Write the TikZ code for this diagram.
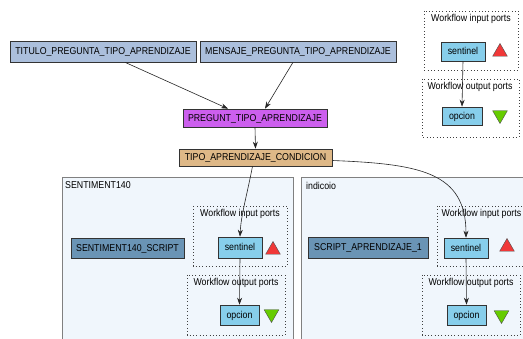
\documentclass[tikz,border=0pt]{standalone}
\usepackage{fontspec}
\setmainfont{Liberation Sans}[FakeStretch=0.88]
\usetikzlibrary{arrows.meta,shapes.geometric}
\definecolor{topfill}{HTML}{ABBFDC}
\definecolor{pregfill}{HTML}{CC5FEE}
\definecolor{tipofill}{HTML}{DEB887}
\definecolor{scriptfill}{HTML}{6A94B5}
\definecolor{portfill}{HTML}{87CEEB}
\definecolor{clusterfill}{HTML}{F0F6FC}
\definecolor{redtri}{HTML}{F03838}
\definecolor{greentri}{HTML}{66CC00}
\tikzset{
  x=1pt, y=-1pt,
  every node/.style={font=\fontsize{10}{11}\selectfont, inner sep=0pt},
  proc/.style={draw=black!80, line width=0.6pt, minimum width=#1, text height=7pt, text depth=0.5pt},
  portbox/.style={draw=black!80, line width=0.6pt, fill=portfill, minimum width=#1, text height=7pt, text depth=0.5pt},
  dotbox/.style={draw=black!75, line width=0.7pt, dash pattern=on 0.7pt off 2.6pt},
  cluster/.style={draw=black!50, line width=0.6pt, fill=clusterfill},
  arr/.style={draw=black!85, line width=0.6pt, -{Stealth[length=7pt,width=5pt]}},
  uptri/.style={draw=black!70, fill=redtri, regular polygon, regular polygon sides=3, minimum size=17pt},
  downtri/.style={draw=black!70, fill=greentri, regular polygon, regular polygon sides=3, shape border rotate=180, minimum size=17pt},
}
\begin{document}
\begin{tikzpicture}
\useasboundingbox (0,0) rectangle (523,339);
\fill[white] (0,0) rectangle (523,339);

% clusters
\begin{scope}
\clip (0,0) rectangle (523,339);
\path[cluster] (62,177) rectangle (293,345);
\path[cluster] (301,177) rectangle (535,345);
\draw[dotbox] (437,206) rectangle (535,266);
\end{scope}
\node[anchor=west] (lsent) at (65,185.5) {SENTIMENT140};
\node[anchor=west] (lindi) at (306,185.5) {indicoio};

% top-right ports
\draw[dotbox] (424,11) rectangle (518,70);
\node (lin0) at (471,18.5) {Workflow input ports};
\draw[dotbox] (422,79) rectangle (519,137);
\node (lout0) at (470,86.5) {Workflow output ports};
\node[portbox=44pt, minimum height=19pt] (sen0) at (463,51.5) {sentinel};
\node[uptri] (rt0) at (500,52) {};
\node[portbox=40pt, minimum height=18pt] (opc0) at (462,116) {opcion};
\node[downtri] (gt0) at (500,115) {};

% SENTIMENT140 internals
\node[proc=113pt, fill=scriptfill, minimum height=20pt] (scr1) at (127.5,248) {SENTIMENT140\_SCRIPT};
\draw[dotbox] (193,206) rectangle (287,266);
\node (lin1) at (240,214) {Workflow input ports};
\draw[dotbox] (187,275) rectangle (285,335);
\node (lout1) at (236,282.5) {Workflow output ports};
\node[portbox=44pt, minimum height=21pt] (sen1) at (240,247.5) {sentinel};
\node[uptri] (rt1) at (273,250) {};
\node[portbox=39pt, minimum height=20pt] (opc1) at (239.5,315) {opcion};
\node[downtri] (gt1) at (271.5,314) {};

% indicoio internals
\node[proc=120pt, fill=scriptfill, minimum height=21pt] (scr2) at (368,247.5) {SCRIPT\_APRENDIZAJE\_1};
\node[anchor=west] (lin2) at (441.5,214) {Workflow input ports};
\draw[dotbox] (422,275) rectangle (520,335);
\node (lout2) at (471,282.5) {Workflow output ports};
\node[portbox=44pt, minimum height=20pt] (sen2) at (466,248) {sentinel};
\node[uptri] (rt2) at (507,247) {};
\node[portbox=39pt, minimum height=20pt] (opc2) at (466.5,315) {opcion};
\node[downtri] (gt2) at (501.5,315) {};

% main flow
\node[proc=186pt, fill=topfill, minimum height=21pt] (tit) at (103,51.5) {TITULO\_PREGUNTA\_TIPO\_APRENDIZAJE};
\node[proc=196pt, fill=topfill, minimum height=21pt] (men) at (298,51.5) {MENSAJE\_PREGUNTA\_TIPO\_APRENDIZAJE};
\node[proc=144pt, fill=pregfill, minimum height=18pt] (pre) at (255,118) {PREGUNT\_TIPO\_APRENDIZAJE};
\node[proc=153pt, fill=tipofill, minimum height=17pt] (tipo) at (255.5,157.5) {TIPO\_APRENDIZAJE\_CONDICION};

\draw[arr] ([xshift=22pt]tit.south) -- ([xshift=-27pt]pre.north);
\draw[arr] ([xshift=-5pt]men.south) -- ([xshift=10pt]pre.north);
\draw[arr] (pre.south) -- (tipo.north);
\draw[arr] ([xshift=-3pt]tipo.south) .. controls (247,195) and (241,215) .. (sen1.north);
\draw[arr] ([yshift=-3pt]tipo.east) .. controls (420,164) and (466,172) .. (sen2.north);
\draw[arr] (sen0.south) -- (opc0.north);
\draw[arr] (sen1.south) -- (opc1.north);
\draw[arr] (sen2.south) -- (opc2.north);
\end{tikzpicture}
\end{document}
